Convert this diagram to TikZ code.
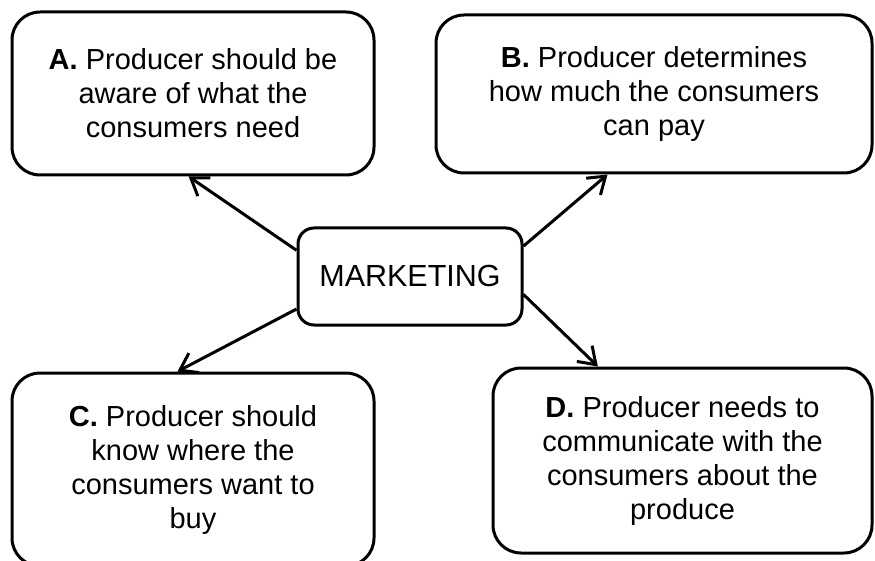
\documentclass[tikz,border=0pt]{standalone}
\usepackage{fontspec}
\setmainfont{Liberation Sans}
\usetikzlibrary{arrows.meta}
\tikzset{
  box/.style={draw, line width=3pt, rounded corners=28pt, align=center,
    font=\fontsize{29}{34}\selectfont},
  hub/.style={draw, line width=3pt, rounded corners=16pt,
    font=\fontsize{30.5}{34}\selectfont},
}
\begin{document}
\begin{tikzpicture}[x=1pt, y=-1pt]
      \useasboundingbox (0,0) rectangle (875,561);
      \draw
        (410,276.5) node[hub, minimum width=224pt, minimum height=97pt] (M){MARKETING}
        (193,93.5) node[box, minimum width=362pt, minimum height=163pt] (A){\textbf{A.} Producer should be\\aware of what the\\consumers need}
        (654,94) node[box, minimum width=436pt, minimum height=158pt] (B){\textbf{B.} Producer determines\\how much the consumers\\can pay}
        (193,469.5) node[box, minimum width=362pt, minimum height=193pt] (C){\textbf{C.} Producer should\\know where the\\consumers want to\\buy}
        (682.5,460.5) node[box, minimum width=379pt, minimum height=185pt] (D){\textbf{D.} Producer needs to\\communicate with the\\consumers about the\\produce};
      \begin{scope}[line width=3pt, -{Straight Barb[length=16pt,width=22pt]}]
        \draw (M.167) to (A.267);
        \draw (M.15) to (B.240);
        \draw (M.196) to (C.99);
        \draw (M.351) to (D.132);
      \end{scope}
    \end{tikzpicture}
\end{document}
